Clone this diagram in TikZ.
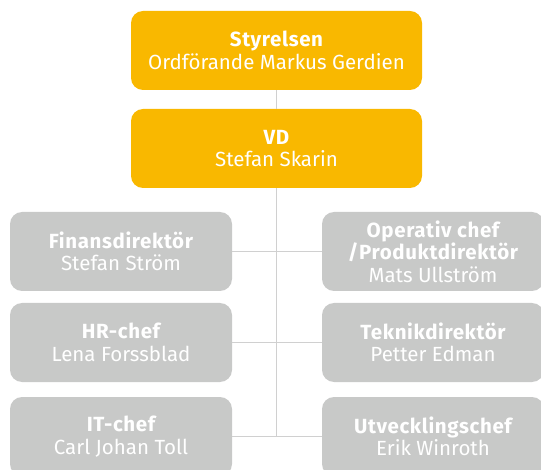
\documentclass[tikz,border=0pt]{standalone}
\usepackage{fontspec}
\setmainfont{Fira Sans}
\newcommand{\ttl}[1]{{\bfseries\addfontfeature{LetterSpace=3}#1}}
\definecolor{orng}{HTML}{F9B800}
\definecolor{gry}{HTML}{C8C9C8}
\definecolor{lin}{HTML}{D0D0D0}
\begin{document}
\begin{tikzpicture}[x=1pt,y=-1pt,
  box/.style={rounded corners=12pt, text=white, align=center, inner sep=0pt,
    font=\fontsize{20.5}{22.5}\selectfont},
  topbox/.style={box, fill=orng, minimum width=291pt, minimum height=79pt},
  sidebox/.style={box, fill=gry, minimum width=222pt, minimum height=79pt},
  conn/.style={draw=lin, line width=1.2pt}]
\useasboundingbox (0,0) rectangle (541,470);
\node[topbox] (sty) at (276.5,50.5) {\ttl{Styrelsen}\\Ordförande Markus Gerdien};
\node[topbox] (vd) at (276.5,148.5) {\ttl{VD}\\Stefan Skarin};
\node[sidebox] (l1) at (121,251.5) {\ttl{Finansdirektör}\\Stefan Ström};
\node[sidebox] (l2) at (121,342.5) {\ttl{HR-chef}\\Lena Forssblad};
\node[sidebox] (l3) at (121,436.5) {\ttl{IT-chef}\\Carl Johan Toll};
\node[sidebox] (r1) at (433,251.5) {\ttl{Operativ chef}\\\ttl{/Produktdirektör}\\Mats Ullström};
\node[sidebox] (r2) at (433,342.5) {\ttl{Teknikdirektör}\\Petter Edman};
\node[sidebox] (r3) at (433,436.5) {\ttl{Utvecklingschef}\\Erik Winroth};
\coordinate (end) at (276.5,436.5);
\draw[conn] (sty.south) -- (vd.north);
\draw[conn] (vd.south) -- (end);
\draw[conn] (l1.east) -- (r1.west);
\draw[conn] (l2.east) -- (r2.west);
\draw[conn] (l3.east) -- (r3.west);
\end{tikzpicture}
\end{document}
